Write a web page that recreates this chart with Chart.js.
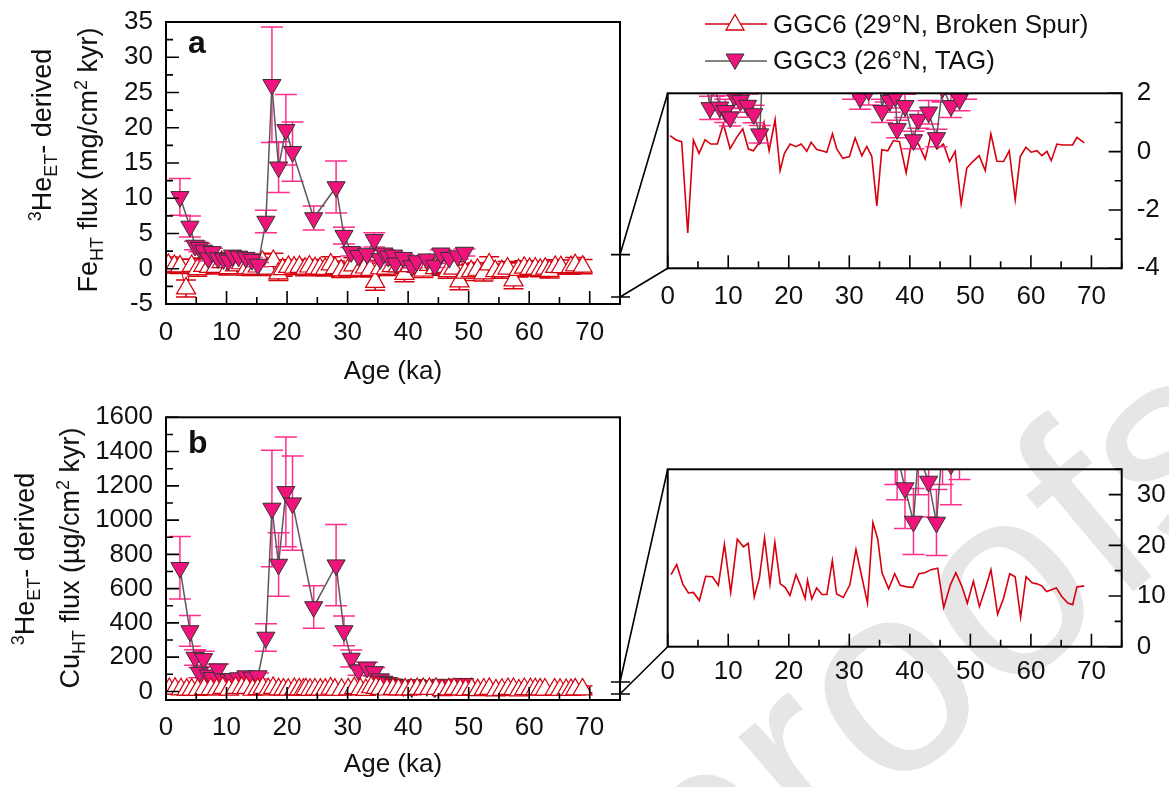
<!DOCTYPE html>
<html>
<head>
<meta charset="utf-8">
<script src="https://cdn.jsdelivr.net/npm/chart.js@4.4.0/dist/chart.umd.min.js"></script>
<style>
  body { margin: 0; width: 1169px; height: 787px; background: #fff; position: relative; overflow: hidden;
         font-family: 'Liberation Sans', Arial, Helvetica, sans-serif; color: #111; }
  canvas { position: absolute; }
  .ytitle { position: absolute; white-space: nowrap; font-size: 27px; line-height: 30px;
            transform: translate(-50%, -50%) rotate(-90deg); z-index: 3; }
  .ytitle sub, .ytitle sup { font-size: 18px; line-height: 0; }
  .letter { position: absolute; font-weight: bold; font-size: 32px; line-height: 32px; z-index: 3; }
  .leg { position: absolute; left: 705px; height: 30px; display: flex; align-items: center;
         font-size: 26px; white-space: nowrap; z-index: 3; }
  .leg span { margin-left: 6px; }
</style>
</head>
<body>
<canvas id="bg" width="1169" height="787" style="left:0;top:0;z-index:0"></canvas>
<canvas id="mainA" width="640" height="400" style="left:0;top:0;z-index:1"></canvas>
<canvas id="insetA" width="529" height="250" style="left:640px;top:70px;z-index:1"></canvas>
<canvas id="mainB" width="640" height="387" style="left:0;top:400px;z-index:1"></canvas>
<canvas id="insetB" width="529" height="260" style="left:640px;top:440px;z-index:1"></canvas>
<canvas id="overlay" width="1169" height="787" style="left:0;top:0;z-index:2;pointer-events:none"></canvas>

<div class="ytitle" style="left:42px;top:135px"><sup>3</sup>He<sub>ET</sub>- derived</div>
<div class="ytitle" style="left:88px;top:160px">Fe<sub>HT</sub> flux (mg/cm<sup>2</sup> kyr)</div>
<div class="ytitle" style="left:25px;top:559px"><sup>3</sup>He<sub>ET</sub>- derived</div>
<div class="ytitle" style="left:70px;top:558px">Cu<sub>HT</sub> flux (µg/cm<sup>2</sup> kyr)</div>
<div class="letter" style="left:188px;top:26px">a</div>
<div class="letter" style="left:188px;top:426px">b</div>

<div class="leg" style="top:9px">
  <svg width="62" height="30"><line x1="0" y1="15" x2="62" y2="15" stroke="#d6000f" stroke-width="1.5"/>
    <polygon points="21,21 39,21 30,5.5" fill="#fff" stroke="#d6000f" stroke-width="1.3"/></svg>
  <span>GGC6 (29°N, Broken Spur)</span>
</div>
<div class="leg" style="top:45.5px">
  <svg width="62" height="30"><line x1="0" y1="15" x2="62" y2="15" stroke="#5a5a5a" stroke-width="1.5"/>
    <polygon points="21,8 39,8 30,23.5" fill="#f0137b" stroke="#333" stroke-width="1"/></svg>
  <span>GGC3 (26°N, TAG)</span>
</div>

<script>
// GGC6 (Broken Spur) - ages and fluxes
const ggc6FeAge = [0.39, 1.38, 2.31, 3.31, 4.24, 5.18, 6.17, 7.11, 8.21, 9.20,
  10.30, 11.40, 12.40, 13.33, 14.16, 15.15, 15.92, 16.75, 17.74, 18.57,
  19.28, 20.22, 21.16, 22.04, 22.98, 23.69, 24.63, 25.45, 26.28, 27.22,
  27.93, 28.93, 30.03, 30.96, 32.07, 32.89, 33.72, 34.55, 35.37, 36.36,
  37.30, 38.29, 39.39, 40.33, 41.43, 42.53, 43.47, 44.46, 45.56, 46.56,
  47.49, 48.48, 49.42, 50.41, 51.46, 52.45, 53.39, 54.38, 55.48, 56.42,
  57.41, 58.24, 59.17, 60.06, 61.00, 61.82, 62.65, 63.36, 64.30, 65.23,
  66.89, 67.60, 68.82];
const ggc6Fe = [0.55, 0.40, 0.34, -2.79, 0.40, -0.06, 0.41, 0.26, 0.26, 0.95,
  0.10, 0.49, 0.78, 0.09, 0.03, 0.32, 1.0, 0.03, 1.10, -0.65,
  -0.06, 0.26, 0.17, 0.26, 0.01, 0.32, 0.07, 0.03, -0.02, 0.61,
  0.09, -0.23, -0.17, 0.47, -0.14, 0.18, -0.17, -1.86, 0.07, 0.03,
  0.38, 0.34, -0.73, 0.38, 0.26, -0.25, 0.55, 0.09, 0.26, -0.34,
  0.01, -1.79, -0.56, -0.34, -0.14, -0.65, 0.61, -0.33, -0.34, 0.03,
  -1.65, -0.17, 0.15, -0.02, 0.03, -0.14, 0.01, -0.31, 0.26, 0.23,
  0.23, 0.49, 0.30];
const ggc6FeErr = [1.1, 1.0, 1.0, 1.2, 1.0, 1.0, 1.1, 1.0, 1.0, 1.1,
  1.0, 1.1, 1.1, 1.0, 1.0, 1.0, 1.1, 1.0, 1.1, 1.0,
  1.0, 1.0, 1.0, 1.0, 1.0, 1.0, 1.0, 1.0, 1.0, 1.1,
  1.0, 1.0, 1.0, 1.1, 1.0, 1.0, 1.0, 1.2, 1.0, 1.0,
  1.0, 1.0, 1.1, 1.0, 1.0, 1.0, 1.1, 1.0, 1.0, 1.0,
  1.0, 1.2, 1.1, 1.0, 1.0, 1.1, 1.1, 1.0, 1.0, 1.0,
  1.2, 1.0, 1.0, 1.0, 1.0, 1.0, 1.0, 1.0, 1.0, 1.0,
  1.0, 1.1, 1.0];

const ggc6CuAge = [0.55, 1.49, 2.48, 3.42, 4.24, 5.23, 6.28, 7.38, 8.37, 9.37,
  10.41, 11.5, 12.5, 13.3, 14.3, 15.15, 16.0, 16.9, 17.7, 18.6,
  19.4, 20.2, 21.2, 22.0, 22.7, 23.1, 23.8, 24.6, 25.5, 26.3,
  27.2, 27.9, 29.0, 30.1, 31.1, 32.1, 33.0, 33.9, 34.7, 35.4,
  36.5, 37.5, 38.4, 39.5, 40.5, 41.5, 42.5, 43.5, 44.6, 45.6,
  46.7, 47.6, 48.6, 49.5, 50.5, 51.5, 52.5, 53.4, 54.5, 55.5,
  56.5, 57.4, 58.3, 59.2, 60.2, 61.0, 61.8, 62.6, 64.2, 65.1,
  66.1, 66.9, 67.6, 68.8];
const ggc6Cu = [14.2, 16.2, 12.4, 10.6, 10.7, 9.1, 13.9, 13.8, 12.1, 20.2,
  10.7, 21.2, 19.7, 20.4, 9.8, 13.6, 21.5, 12.4, 20.6, 12.4,
  11.7, 10.1, 14.2, 11.9, 9.5, 13.1, 9.4, 11.6, 10.3, 10.3,
  17.0, 10.4, 9.7, 12.2, 19.2, 13.6, 8.6, 24.5, 21.2, 14.6,
  11.4, 14.4, 12.1, 11.8, 11.7, 14.4, 14.6, 15.2, 15.5, 7.7,
  12.2, 14.6, 11.9, 8.6, 12.9, 7.9, 11.6, 15.2, 6.4, 9.6,
  14.4, 13.8, 5.8, 13.8, 12.6, 12.4, 12.0, 10.9, 11.6, 9.9,
  8.6, 8.3, 11.8, 12.0];
const ggc6CuErr = [20, 22, 19, 18, 18, 17, 20, 20, 19, 24,
  18, 24, 23, 24, 17, 20, 25, 19, 24, 19,
  18, 17, 20, 19, 17, 19, 17, 18, 18, 18,
  22, 18, 17, 19, 23, 20, 16, 26, 24, 20,
  18, 20, 19, 18, 18, 20, 20, 21, 21, 16,
  19, 20, 19, 16, 19, 16, 18, 21, 15, 17,
  20, 20, 15, 20, 19, 19, 18, 18, 18, 17,
  16, 16, 18, 19];

// GGC3 (TAG)
const ggc3Age = [2.3, 3.95, 4.8, 5.5, 6.2, 7.0, 7.6, 8.6, 9.5, 10.3,
  11.0, 12.0, 13.2, 14.2, 15.2, 16.5, 17.5, 18.6, 19.8, 20.9,
  24.4, 28.1, 29.4, 30.6, 31.8, 33.2, 34.4, 35.4, 36.0, 36.7,
  37.6, 37.9, 39.2, 40.6, 41.4, 43.1, 44.4, 45.4, 46.8, 48.2, 49.3];
const ggc3Fe = [10.2, 6.0, 3.3, 3.0, 2.6, 1.5, 2.4, 1.52, 1.4, 1.18,
  1.9, 1.75, 1.58, 1.29, 0.6, 6.7, 26.1, 14.4, 19.7, 16.6,
  7.2, 11.6, 4.7, 2.4, 1.85, 2.1, 4.1, 1.4, 2.2, 1.75,
  1.9, 0.78, 1.57, 0.4, 1.1, 1.35, 0.47, 2.2, 1.57, 1.8, 2.3];
const ggc3FeErr = [2.6, 1.5, 0.6, 0.6, 0.5, 0.4, 0.5, 0.4, 0.4, 0.3,
  0.4, 0.4, 0.4, 0.3, 0.3, 1.6, 8.2, 3.6, 5.0, 4.2,
  1.7, 3.7, 1.2, 0.6, 0.4, 0.5, 1.0, 0.4, 0.5, 0.4,
  0.4, 0.3, 0.4, 0.3, 0.3, 0.4, 0.3, 0.5, 0.4, 0.4, 0.5];
const ggc3Cu = [722, 353, 198, 110, 190, 95, 80, 130, 72, 70,
  72, 78, 90, 82, 90, 315, 1068, 741, 1165, 1099,
  493, 737, 353, 192, 124, 140, 114, 72, 58, 50,
  42, 38, 31.3, 24.7, 38, 32.6, 24.5, 40, 36, 42, 45];
const ggc3CuErr = [182, 90, 45, 30, 45, 25, 20, 30, 15, 15,
  15, 15, 18, 15, 18, 80, 340, 185, 320, 275,
  124, 237, 87, 50, 30, 30, 25, 15, 12, 12,
  10, 9, 8, 6.5, 8, 7, 6.5, 8, 8, 9, 9];

// tick labels
const ageTicks = [0, 10, 20, 30, 40, 50, 60, 70];
const feTicks = [-5, 0, 5, 10, 15, 20, 25, 30, 35];
const feInsetTicks = [-4, -2, 0, 2];
const cuTicks = [0, 200, 400, 600, 800, 1000, 1200, 1400, 1600];
const cuInsetTicks = [0, 10, 20, 30];
// where the zoom lines leave the main panels
const feZoomMarks = [2, -4];
const cuZoomMarks = [55, -15];

const RED = '#d6000f';
const PINK = '#f0137b';
const PINK_BAR = '#ff2d8c';
const GRAY = '#5a5a5a';

Chart.defaults.font.family = "'Liberation Sans', Arial, Helvetica, sans-serif";
Chart.defaults.font.size = 26;
Chart.defaults.color = '#111';

function pts(xs, ys) {
  return xs.map((x, i) => ({ x: x, y: ys[i] }));
}

function halfSteps(maj, lo, hi) {
  const out = [];
  const step = maj[1] - maj[0];
  for (let v = maj[0] - step / 2; v <= hi + 1e-9; v += step) {
    if (v >= lo - 1e-9) out.push(v);
  }
  return out;
}

// box around the plot + inward ticks (major and minor)
const boxTicks = {
  id: 'boxTicks',
  afterDraw(chart) {
    const ctx = chart.ctx, a = chart.chartArea;
    const xs = chart.scales.x, ys = chart.scales.y;
    ctx.save();
    ctx.strokeStyle = '#000';
    ctx.lineWidth = 2;
    ctx.strokeRect(a.left, a.top, a.right - a.left, a.bottom - a.top);
    ctx.lineWidth = 1.6;
    ctx.beginPath();
    const xMaj = xs.ticks.map(t => t.value);
    const yMaj = ys.ticks.map(t => t.value);
    xMaj.forEach(v => { const p = xs.getPixelForValue(v); ctx.moveTo(p, a.bottom); ctx.lineTo(p, a.bottom - 13); });
    halfSteps(xMaj, xs.min, xs.max).forEach(v => { const p = xs.getPixelForValue(v); ctx.moveTo(p, a.bottom); ctx.lineTo(p, a.bottom - 7); });
    const right = ys.position === 'right';
    const ex = right ? a.right : a.left, d = right ? -1 : 1;
    yMaj.forEach(v => { const p = ys.getPixelForValue(v); ctx.moveTo(ex, p); ctx.lineTo(ex + d * 13, p); });
    halfSteps(yMaj, ys.min, ys.max).forEach(v => { const p = ys.getPixelForValue(v); ctx.moveTo(ex, p); ctx.lineTo(ex + d * 7, p); });
    ctx.stroke();
    ctx.restore();
  }
};

// vertical error bars with caps, drawn under each dataset
const errorBars = {
  id: 'errorBars',
  beforeDatasetDraw(chart, args) {
    const ds = chart.data.datasets[args.index];
    if (!ds.errors) return;
    const ctx = chart.ctx, a = chart.chartArea;
    const xs = chart.scales.x, ys = chart.scales.y;
    const cap = ds.capWidth || 11;
    ctx.save();
    ctx.beginPath();
    ctx.rect(a.left, a.top, a.right - a.left, a.bottom - a.top);
    ctx.clip();
    ctx.strokeStyle = ds.errorColor;
    ctx.lineWidth = 1.5;
    ctx.beginPath();
    ds.data.forEach((p, i) => {
      const e = ds.errors[i];
      const px = xs.getPixelForValue(p.x);
      const y1 = ys.getPixelForValue(p.y + e), y2 = ys.getPixelForValue(p.y - e);
      ctx.moveTo(px, y1); ctx.lineTo(px, y2);
      ctx.moveTo(px - cap, y1); ctx.lineTo(px + cap, y1);
      ctx.moveTo(px - cap, y2); ctx.lineTo(px + cap, y2);
    });
    ctx.stroke();
    ctx.restore();
  }
};

function xAxis(h, pad, title, titlePad) {
  return {
    type: 'linear', min: 0, max: 75,
    afterBuildTicks: s => { s.ticks = ageTicks.map(v => ({ value: v })); },
    afterFit: s => { s.height = h; s.paddingLeft = 0; s.paddingRight = 0; },
    grid: { display: false, drawTicks: false },
    border: { display: false },
    ticks: { padding: pad, maxRotation: 0, autoSkip: false, callback: v => String(v) },
    title: title ? { display: true, text: title, padding: { top: 0, bottom: titlePad } } : { display: false }
  };
}

function yAxis(pos, w, min, max, tickVals, pad) {
  return {
    type: 'linear', position: pos, min: min, max: max,
    afterBuildTicks: s => { s.ticks = tickVals.map(v => ({ value: v })); },
    afterFit: s => { s.width = w; s.paddingTop = 0; s.paddingBottom = 0; },
    grid: { display: false, drawTicks: false },
    border: { display: false },
    ticks: { padding: pad, autoSkip: false, callback: v => String(v) }
  };
}

function ggc3Set(vals, errs, order) {
  return {
    label: 'GGC3 (26°N, TAG)', data: pts(ggc3Age, vals), errors: errs, errorColor: PINK_BAR, capWidth: 11,
    showLine: true, borderColor: GRAY, borderWidth: 1.5,
    pointStyle: 'triangle', pointRotation: 180, pointRadius: 10.5, pointHoverRadius: 10.5,
    pointBackgroundColor: PINK, pointBorderColor: '#333', pointBorderWidth: 1, order: order
  };
}

function ggc6Set(ages, vals, errs, order, markers) {
  const ds = {
    label: 'GGC6 (29°N, Broken Spur)', data: pts(ages, vals),
    showLine: true, borderColor: RED, order: order
  };
  if (markers) {
    Object.assign(ds, {
      errors: errs, errorColor: RED, capWidth: 10, borderWidth: 1,
      pointStyle: 'triangle', pointRadius: 11, pointHoverRadius: 11,
      pointBackgroundColor: '#fff', pointBorderColor: RED, pointBorderWidth: 1.2
    });
  } else {
    Object.assign(ds, { borderWidth: 1.6, pointRadius: 0, pointHoverRadius: 0 });
  }
  return ds;
}

function baseOptions(padding, scales) {
  return {
    responsive: false, animation: false, events: [],
    layout: { padding: padding },
    plugins: { legend: { display: false }, tooltip: { enabled: false } },
    scales: scales
  };
}

// panel a
const chartA = new Chart(document.getElementById('mainA'), {
  type: 'scatter',
  data: { datasets: [ggc3Set(ggc3Fe, ggc3FeErr, 0), ggc6Set(ggc6FeAge, ggc6Fe, ggc6FeErr, 1, true)] },
  options: baseOptions({ left: 0, top: 22, right: 20, bottom: 0 }, {
    x: xAxis(96, 13.4, 'Age (ka)', 12.4),
    y: yAxis('left', 166, -5, 35, feTicks, 13)
  }),
  plugins: [errorBars, boxTicks]
});

const chartAi = new Chart(document.getElementById('insetA'), {
  type: 'scatter',
  data: { datasets: [ggc3Set(ggc3Fe, ggc3FeErr, 0), ggc6Set(ggc6FeAge, ggc6Fe, null, 1, false)] },
  options: baseOptions({ left: 27.7, top: 23.3, right: 0, bottom: 0 }, {
    x: xAxis(51.7, 13, null, 0),
    y: yAxis('right', 47.3, -4, 2, feInsetTicks, 15)
  }),
  plugins: [errorBars, boxTicks]
});

// panel b (GGC6 drawn over GGC3 here)
const chartB = new Chart(document.getElementById('mainB'), {
  type: 'scatter',
  data: { datasets: [ggc3Set(ggc3Cu, ggc3CuErr, 1), ggc6Set(ggc6CuAge, ggc6Cu, ggc6CuErr, 0, true)] },
  options: baseOptions({ left: 0, top: 17.3, right: 20, bottom: 0 }, {
    x: xAxis(87, 12.4, 'Age (ka)', 6.4),
    y: yAxis('left', 166, -50, 1600, cuTicks, 13)
  }),
  plugins: [errorBars, boxTicks]
});

const chartBi = new Chart(document.getElementById('insetB'), {
  type: 'scatter',
  data: { datasets: [ggc3Set(ggc3Cu, ggc3CuErr, 0), ggc6Set(ggc6CuAge, ggc6Cu, null, 1, false)] },
  options: baseOptions({ left: 27.7, top: 29.3, right: 0, bottom: 0 }, {
    x: xAxis(53.3, 9.7, null, 0),
    y: yAxis('right', 47.3, 0, 35, cuInsetTicks, 15)
  }),
  plugins: [errorBars, boxTicks]
});

// zoom connector lines between main panels and insets
function connect(ctx, main, mainTop, inset, insetLeft, insetTop, marks) {
  const xr = main.chartArea.right;
  const yHi = mainTop + main.scales.y.getPixelForValue(marks[0]);
  const yLo = mainTop + main.scales.y.getPixelForValue(marks[1]);
  const xi = insetLeft + inset.chartArea.left;
  ctx.beginPath();
  ctx.moveTo(xr - 9, yHi); ctx.lineTo(xr + 10, yHi);
  ctx.moveTo(xr - 9, yLo); ctx.lineTo(xr + 10, yLo);
  ctx.moveTo(xr, yHi); ctx.lineTo(xi, insetTop + inset.chartArea.top);
  ctx.moveTo(xr, yLo); ctx.lineTo(xi, insetTop + inset.chartArea.bottom);
  ctx.stroke();
}
const ov = document.getElementById('overlay').getContext('2d');
ov.strokeStyle = '#000';
ov.lineWidth = 1.6;
connect(ov, chartA, 0, chartAi, 640, 70, feZoomMarks);
connect(ov, chartB, 400, chartBi, 640, 440, cuZoomMarks);

// faint "Journal Pre-proofs" watermark behind everything
const bg = document.getElementById('bg').getContext('2d');
bg.save();
bg.translate(885, 800);
bg.rotate(-40 * Math.PI / 180);
bg.fillStyle = '#e6e6e6';
bg.font = "270px 'Liberation Sans', Arial, sans-serif";
bg.textAlign = 'right';
bg.fillText('Journal Pre-pr', 0, 0);
bg.textAlign = 'left';
bg.fillText('oofs', 0, 0);
bg.restore();
</script>
</body>
</html>
